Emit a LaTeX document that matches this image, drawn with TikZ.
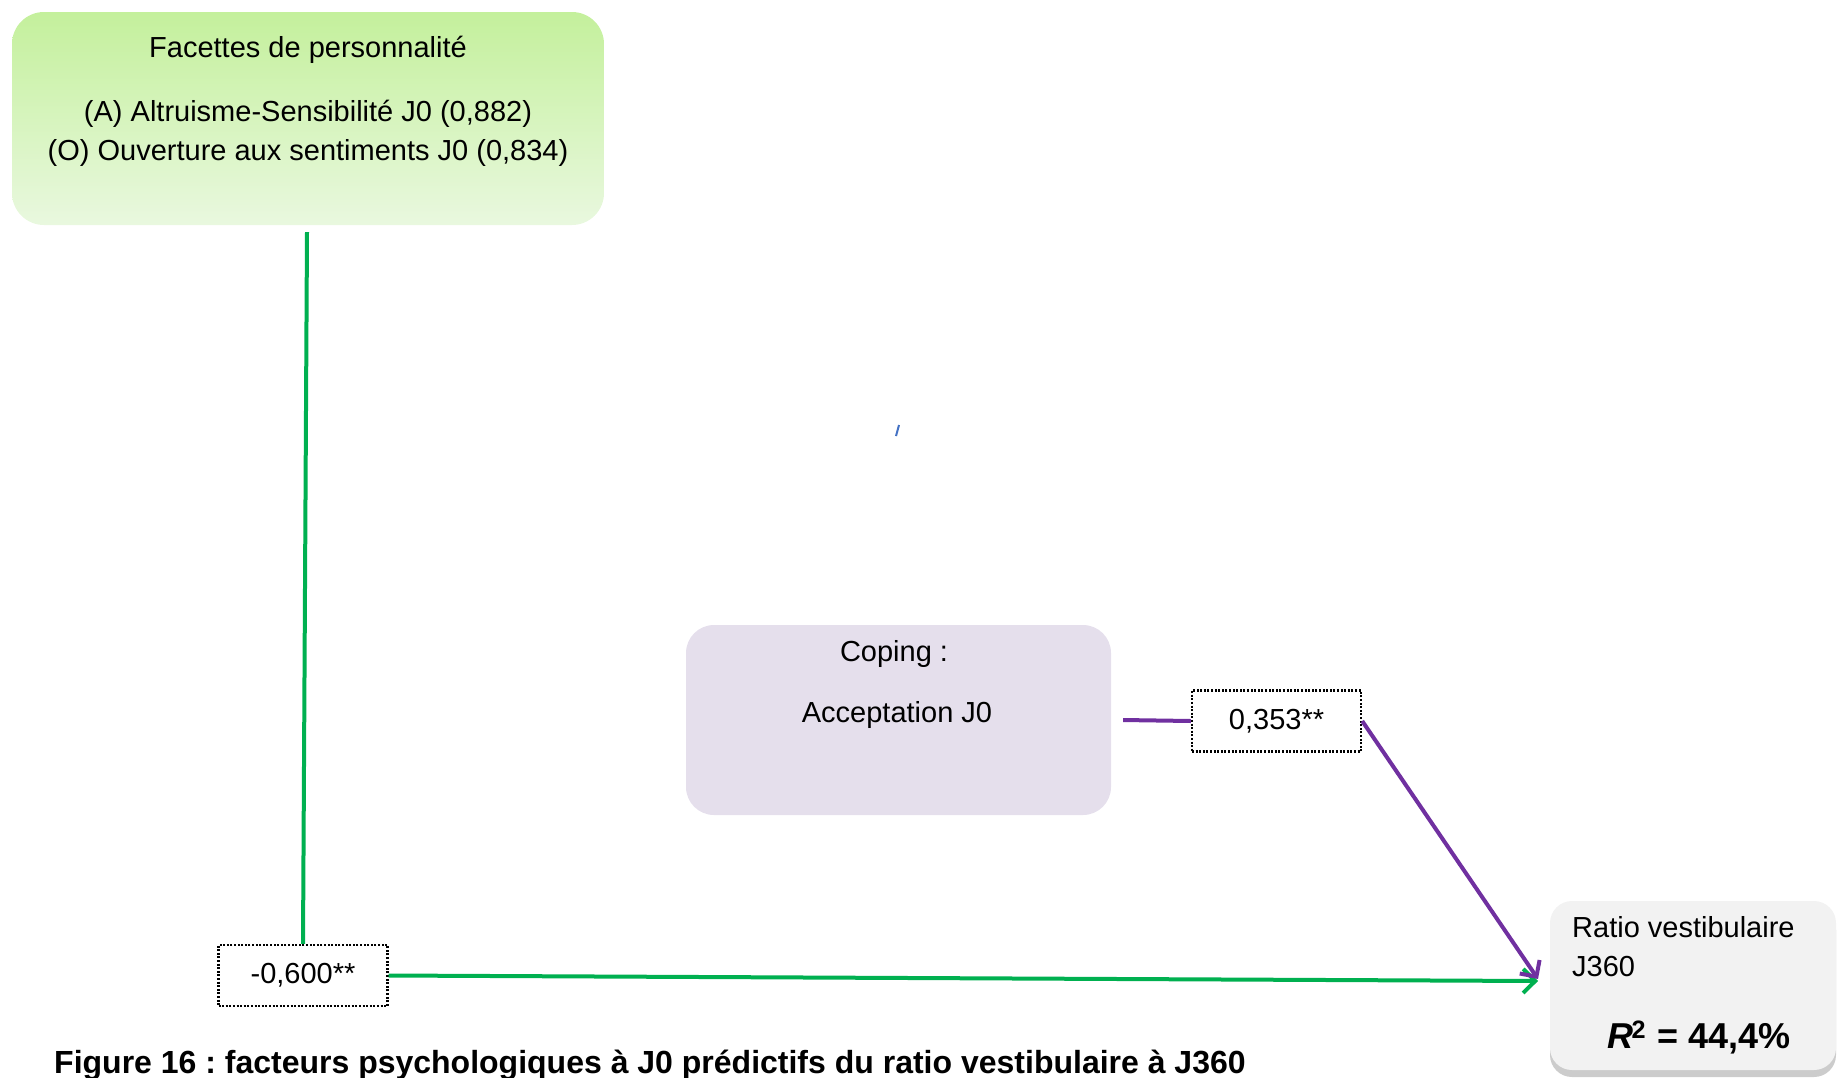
\documentclass[tikz,border=0pt]{standalone}
\usepackage{fontspec}
\setmainfont{Liberation Sans}
\usetikzlibrary{arrows.meta,shadows}
\frenchspacing
\definecolor{grn}{HTML}{00B050}
\definecolor{purp}{HTML}{7030A0}
\definecolor{grntop}{HTML}{C4F09C}
\definecolor{grnbot}{HTML}{E9F8DF}
\definecolor{purfill}{HTML}{E5DFEC}
\definecolor{ratfill}{HTML}{F2F2F2}
\definecolor{markblue}{HTML}{4472C4}
\tikzset{
  txt/.style={font=\fontsize{29}{34}\selectfont, inner sep=0pt},
  coefbox/.style={draw=black, dash pattern=on 2pt off 1.6pt, line width=2.4pt, fill=white,
    minimum width=169pt, minimum height=61pt, inner sep=0pt,
    font=\fontsize{29}{34}\selectfont},
  greenline/.style={draw=grn, line width=4pt},
  purpline/.style={draw=purp, line width=4pt},
  tipg/.style={-{Straight Barb[length=12pt,width=24pt,line width=4pt]}},
}
\begin{document}
\begin{tikzpicture}[x=1pt,y=-1pt]
\useasboundingbox (0,0) rectangle (1839,1077);
% personality box
\node[rounded corners=32pt, top color=grntop, bottom color=grnbot, draw=none,
  minimum width=592pt, minimum height=213pt, inner sep=0pt] (pers) at (308,118.5) {};
\node[txt, anchor=base] (perst) at (308,57) {Facettes de personnalité};
\node[txt, anchor=base] (persa) at (308,121) {(A) Altruisme-Sensibilité J0 (0,882)};
\node[txt, anchor=base] (perso) at (308,160) {(O) Ouverture aux sentiments J0 (0,834)};
% coping box
\node[rounded corners=28pt, fill=purfill, draw=none,
  minimum width=425pt, minimum height=190pt, inner sep=0pt] (cop) at (898.5,720) {};
\node[txt, anchor=base] (copt) at (894,661) {Coping :};
\node[txt, anchor=base] (copa) at (897,722) {Acceptation J0};
% ratio box
\node[rounded corners=22pt, fill=ratfill, draw=none,
  drop shadow={shadow xshift=0pt, shadow yshift=-7pt, fill=black!40, opacity=0.5},
  minimum width=286pt, minimum height=169pt, inner sep=0pt] (rat) at (1693,985.5) {};
\node[txt, anchor=base west] (ratt) at (1572,937) {Ratio vestibulaire};
\node[txt, anchor=base west] (ratj) at (1572,976) {J360};
\node[font=\fontsize{36}{40}\selectfont\bfseries, inner sep=0pt, anchor=base] (ratr) at (1699,1048)
  {\textit{R}\textsuperscript{\kern-2pt 2}\kern1pt\ = 44,4\%};
% coefficient boxes
\node[coefbox] (b600) at (303,975.5) {-0,600**};
\node[coefbox] (b353) at (1276.5,721) {0,353**};
% connectors
\coordinate (tip) at (1538,981);
\draw[greenline] ([xshift=-1pt,yshift=-7pt]pers.south) -- (b600.north);
\draw[greenline, tipg] (b600.east) -- (tip);
\draw[purpline] ([xshift=12pt]cop.east) -- (b353.west);
\draw[purpline, tipg] (b353.east) -- ([yshift=2pt]tip);
% stray mark
\draw[markblue, line width=2pt] (896,436) -- (899,425);
% caption
\node[font=\fontsize{32}{36}\selectfont\bfseries, inner sep=0pt, anchor=base west] (cap) at (54,1073)
  {Figure 16 : facteurs psychologiques à J0 prédictifs du ratio vestibulaire à J360};
\end{tikzpicture}
\end{document}
